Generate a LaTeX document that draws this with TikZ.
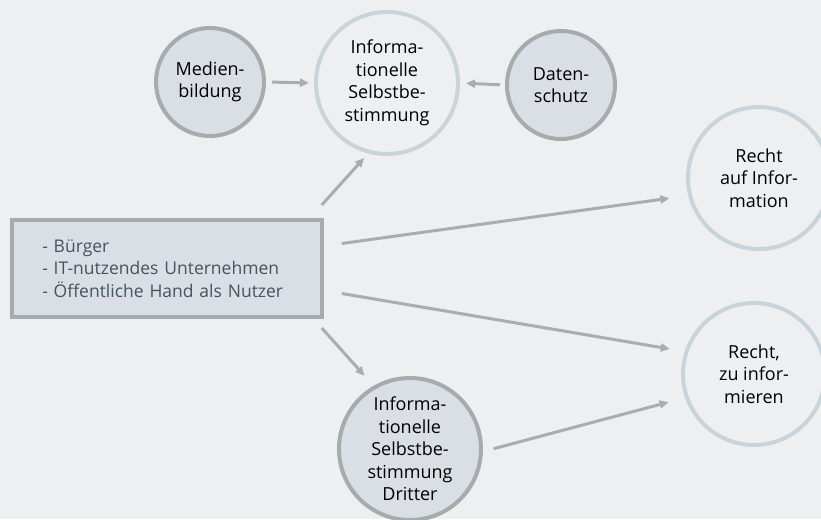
\documentclass[tikz,border=0pt]{standalone}
\usepackage{fontspec}
\setmainfont{Open Sans}
\usetikzlibrary{arrows.meta}

\definecolor{bggrey}{HTML}{EEEFF1}
\definecolor{fillgrey}{HTML}{D9DFE4}
\definecolor{rimdark}{HTML}{A6ABAE}
\definecolor{rimlight}{HTML}{C9D4DA}
\definecolor{arrowgrey}{HTML}{A7AEB1}
\definecolor{boxtext}{HTML}{46545F}

\tikzset{
  darkcircle/.style={circle,draw=rimdark,fill=fillgrey,line width=4pt,inner sep=0pt,
    align=center,font=\fontsize{18}{22.5}\selectfont},
  lightcircle/.style={circle,draw=rimlight,line width=4pt,inner sep=0pt,
    align=center,font=\fontsize{18}{22.5}\selectfont},
  arr/.style={draw=arrowgrey,line width=3pt,-{Triangle[length=9pt,width=8pt]}}
}

\begin{document}
\begin{tikzpicture}[x=1pt,y=-1pt]
      \fill[bggrey] (0,0) rectangle (821,519);
      \clip (0,0) rectangle (821,519);

      \node[lightcircle,minimum size=142pt] (infoA) at (387,83) {Informa-\\tionelle\\Selbstbe-\\stimmung};
      \node[darkcircle,minimum size=108pt] (medien) at (210,82) {Medien-\\bildung};
      \node[darkcircle,minimum size=108pt] (daten) at (561,85) {Daten-\\schutz};
      \node[lightcircle,minimum size=142pt] (rechtA) at (759,178) {Recht\\auf Infor-\\mation};
      \node[lightcircle,minimum size=142pt] (rechtB) at (754,374) {Recht,\\zu infor-\\mieren};
      \node[darkcircle,minimum size=142pt] (infoC) at (410,449) {Informa-\\tionelle\\Selbstbe-\\stimmung\\Dritter};
      \node[draw=rimdark,fill=fillgrey,line width=4pt,minimum width=310pt,minimum height=97pt,
            inner xsep=0pt,text width=249pt,align=left,text=boxtext,
            font=\fontsize{17.5}{22.5}\selectfont] (box) at (166.75,268.5)
            {- Bürger\\- IT-nutzendes Unternehmen\\- Öffentliche Hand als Nutzer};

      \draw[arr,shorten <=6pt,shorten >=5pt] (medien.east) -- (infoA.west);
      \draw[arr,shorten <=5pt,shorten >=6pt] (daten.west) -- (infoA.east);
      \draw[arr,shorten >=6pt] ([shift={(-2,-13)}]box.north east) -- (infoA.255);
      \draw[arr,shorten >=19pt] ([shift={(18,-25)}]box.east) -- (rechtA.194);
      \draw[arr,shorten >=15pt] ([shift={(18,25)}]box.east) -- (rechtB.162);
      \draw[arr,shorten >=13.5pt] ([shift={(-2,9)}]box.south east) -- (infoC.120);
      \draw[arr,shorten <=11pt,shorten >=17pt] (infoC.358) -- (rechtB.199);
\end{tikzpicture}
\end{document}
